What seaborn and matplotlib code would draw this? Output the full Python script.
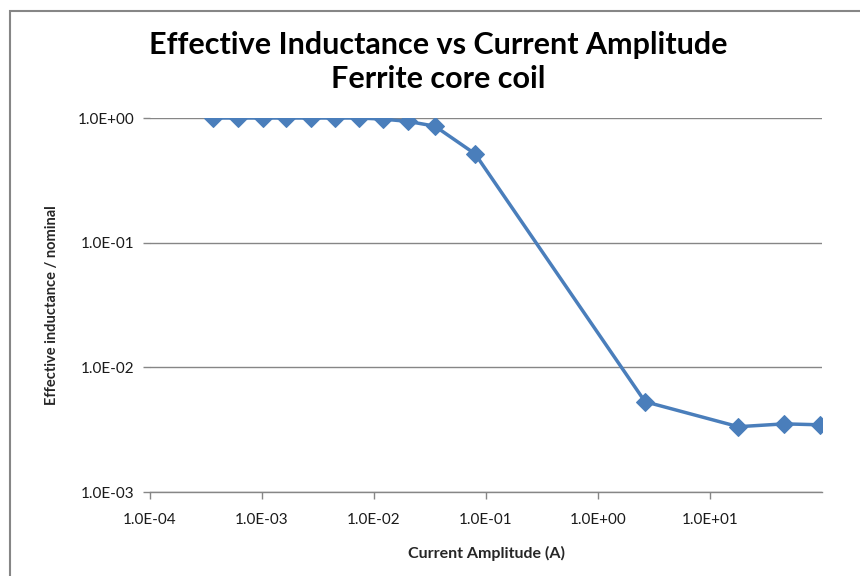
import numpy as np
import matplotlib.pyplot as plt
import seaborn as sns
from matplotlib.ticker import FuncFormatter, FixedLocator, NullLocator
from matplotlib.patches import Rectangle

# current amplitude (A) and effective inductance / nominal
current = [3.65e-4, 6.1e-4, 1.02e-3, 1.63e-3, 2.74e-3, 4.5e-3, 7.3e-3,
           0.012, 0.020, 0.035, 0.080, 2.63, 17.9, 46.0, 95.0]
inductance = [1.0, 1.0, 1.0, 1.0, 1.0, 1.0, 1.0,
              0.98, 0.94, 0.86, 0.515, 0.0053, 0.00334, 0.00352, 0.00346]

x_ticks = [1e-4, 1e-3, 1e-2, 1e-1, 1e0, 1e1]
y_ticks = [1e-3, 1e-2, 1e-1, 1e0]

sns.set_style("white")
plt.rcParams['font.family'] = ['Lato', 'DejaVu Sans']

fig = plt.figure(figsize=(8.6, 5.76), dpi=100)
ax = fig.add_axes([150 / 860, 1 - 492 / 576, 672 / 860, 374 / 576])

# chart border (cropped on the right and bottom)
fig.patches.append(Rectangle((10 / 860, -0.05), 1.2, 1 - 11 / 576 + 0.05,
                             transform=fig.transFigure, fill=False,
                             edgecolor="#868686", linewidth=1.5))

blue = "#4A7EBB"
sns.lineplot(x=current, y=inductance, ax=ax, color=blue, linewidth=2.5,
             marker="D", markersize=9, markeredgecolor=blue)

ax.set_xscale("log")
ax.set_yscale("log")
ax.set_xlim(1e-4, 1e2)
ax.set_ylim(1e-3, 1e0)

fmt = FuncFormatter(lambda v, p: f"{v:.1E}")
ax.xaxis.set_major_locator(FixedLocator(x_ticks))
ax.yaxis.set_major_locator(FixedLocator(y_ticks))
ax.xaxis.set_minor_locator(NullLocator())
ax.yaxis.set_minor_locator(NullLocator())
ax.xaxis.set_major_formatter(fmt)
ax.yaxis.set_major_formatter(fmt)

ax.grid(axis="y", color="#868686", linewidth=1)
for s in ["top", "right", "left"]:
    ax.spines[s].set_visible(False)
ax.spines["bottom"].set_color("#868686")
ax.spines["bottom"].set_linewidth(1)
ax.tick_params(axis="both", which="major", length=5, width=1, color="#868686",
               labelsize=11, labelcolor="#1a1a1a", direction="out")
ax.tick_params(axis="x", pad=10)
ax.tick_params(axis="y", pad=6, left=True)
ax.yaxis.set_ticks_position("left")
ax.xaxis.set_ticks_position("bottom")

ax.set_xlabel("Current Amplitude (A)", fontsize=11.5, fontweight="bold", labelpad=14)
ax.set_ylabel("Effective inductance / nominal", fontsize=10.5, fontweight="bold", labelpad=14)

fig.text(0.51, 1 - 45 / 576, "Effective Inductance vs Current Amplitude",
         ha="center", va="center", fontsize=22, fontweight="bold", color="black")
fig.text(0.51, 1 - 79 / 576, "Ferrite core coil",
         ha="center", va="center", fontsize=22, fontweight="bold", color="black")

fig.savefig("out.png", dpi=100)
